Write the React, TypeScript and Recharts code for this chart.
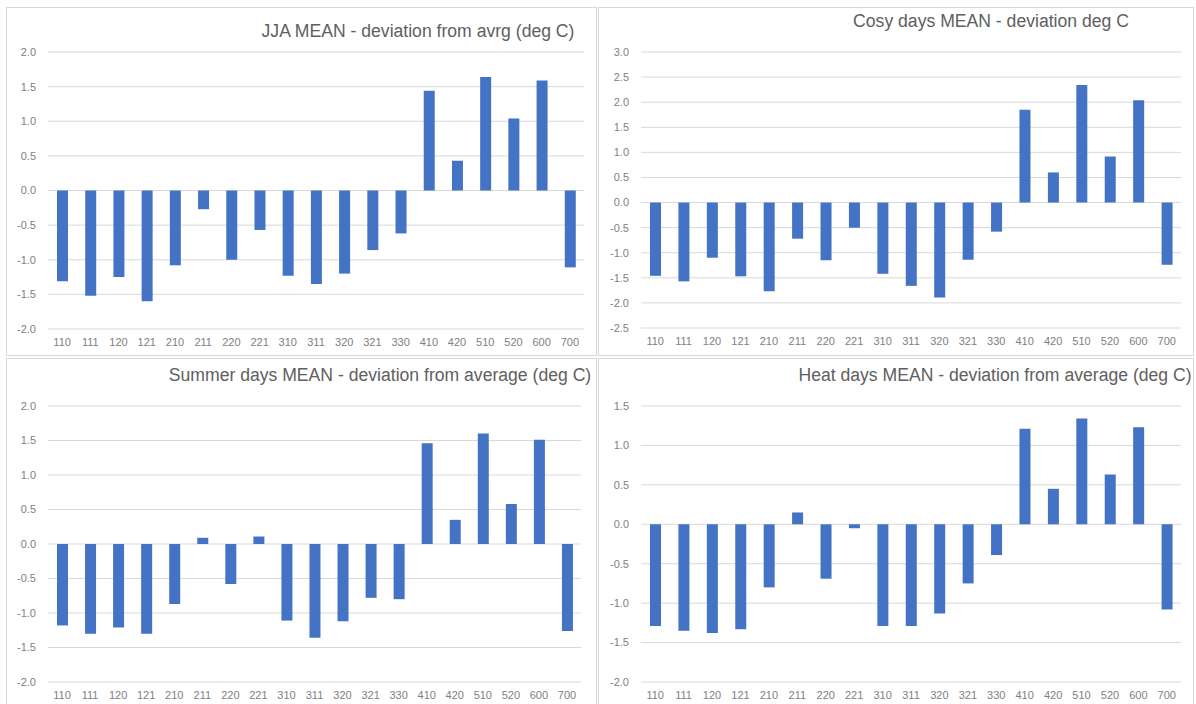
import React from "react";
import { BarChart, Bar, XAxis, YAxis, CartesianGrid } from "recharts";

const categories = ["110", "111", "120", "121", "210", "211", "220", "221", "310", "311", "320", "321", "330", "410", "420", "510", "520", "600", "700"];

const jjaValues = [-1.31, -1.52, -1.25, -1.6, -1.08, -0.27, -1.0, -0.57, -1.23, -1.35, -1.2, -0.86, -0.62, 1.44, 0.43, 1.64, 1.04, 1.59, -1.11];
const cosyValues = [-1.46, -1.57, -1.1, -1.47, -1.77, -0.72, -1.15, -0.5, -1.42, -1.66, -1.89, -1.14, -0.58, 1.85, 0.6, 2.34, 0.92, 2.04, -1.24];
const summerValues = [-1.18, -1.3, -1.21, -1.3, -0.87, 0.09, -0.58, 0.11, -1.11, -1.36, -1.12, -0.78, -0.8, 1.46, 0.35, 1.6, 0.58, 1.51, -1.26];
const heatValues = [-1.29, -1.35, -1.38, -1.33, -0.8, 0.15, -0.69, -0.05, -1.29, -1.29, -1.13, -0.75, -0.39, 1.21, 0.45, 1.34, 0.63, 1.23, -1.08];

const jjaTicks = [-2, -1.5, -1, -0.5, 0, 0.5, 1, 1.5, 2];
const cosyTicks = [-2.5, -2, -1.5, -1, -0.5, 0, 0.5, 1, 1.5, 2, 2.5, 3];
const summerTicks = [-2, -1.5, -1, -0.5, 0, 0.5, 1, 1.5, 2];
const heatTicks = [-2, -1.5, -1, -0.5, 0, 0.5, 1, 1.5];

const titles = [
  "JJA MEAN - deviation from avrg (deg C)",
  "Cosy days MEAN - deviation deg C",
  "Summer days MEAN - deviation from average (deg C)",
  "Heat days MEAN - deviation from average (deg C)",
];

const BAR = "#4472C4";
const GRID = "#d9d9d9";
const TEXT = "#808080";
const FONT = "'Liberation Sans', Arial, sans-serif";

type PanelProps = {
  left: number;
  top: number;
  width: number;
  height: number;
  title: string;
  titleCenter: number;
  titleY: number;
  values: number[];
  ticks: number[];
  plotTop: number;
  plotBottom: number;
  plotLeft: number;
  plotRight: number;
};

function Panel(p: PanelProps) {
  const data = categories.map((c, i) => ({ cat: c, v: p.values[i] }));
  const xAxisH = 20;
  return (
    <div
      style={{
        position: "absolute",
        left: p.left,
        top: p.top,
        width: p.width,
        height: p.height,
        boxSizing: "border-box",
        border: `1px solid ${GRID}`,
        background: "#fff",
        overflow: "hidden",
      }}
    >
      <div
        style={{
          position: "absolute",
          left: p.titleCenter,
          top: p.titleY,
          transform: "translate(-50%, -50%)",
          whiteSpace: "nowrap",
          fontFamily: FONT,
          fontSize: 17.6,
          color: "#606060",
        }}
      >
        {p.title}
      </div>
      <div style={{ position: "absolute", left: -1, top: -1 }}>
        <BarChart
          width={p.width}
          height={p.height}
          data={data}
          margin={{
            top: p.plotTop,
            right: p.width - p.plotRight,
            left: 0,
            bottom: p.height - p.plotBottom - xAxisH,
          }}
        >
          <CartesianGrid vertical={false} stroke={GRID} />
          <XAxis
            dataKey="cat"
            height={xAxisH}
            axisLine={false}
            tickLine={false}
            tickMargin={3}
            interval={0}
            tick={{ fill: TEXT, fontSize: 11, fontFamily: FONT }}
          />
          <YAxis
            width={p.plotLeft}
            type="number"
            domain={[p.ticks[0], p.ticks[p.ticks.length - 1]]}
            ticks={p.ticks}
            axisLine={false}
            tickLine={false}
            tickMargin={6}
            interval={0}
            tickFormatter={(v: number) => v.toFixed(1)}
            tick={{ fill: TEXT, fontSize: 11, fontFamily: FONT }}
          />
          <Bar dataKey="v" fill={BAR} barSize={11} isAnimationActive={false} />
        </BarChart>
      </div>
    </div>
  );
}

export default function App() {
  return (
    <div
      style={{
        position: "fixed",
        left: 0,
        top: 0,
        width: 1196,
        height: 704,
        background: "#ffffff",
        overflow: "hidden",
      }}
    >
      <Panel
        left={6}
        top={7}
        width={591}
        height={349}
        title={titles[0]}
        titleCenter={411}
        titleY={23}
        values={jjaValues}
        ticks={jjaTicks}
        plotTop={45}
        plotBottom={322}
        plotLeft={42}
        plotRight={578}
      />
      <Panel
        left={598}
        top={7}
        width={596}
        height={349}
        title={titles[1]}
        titleCenter={392}
        titleY={13}
        values={cosyValues}
        ticks={cosyTicks}
        plotTop={45}
        plotBottom={321}
        plotLeft={43}
        plotRight={583}
      />
      <Panel
        left={6}
        top={358}
        width={591}
        height={348}
        title={titles[2]}
        titleCenter={373}
        titleY={16}
        values={summerValues}
        ticks={summerTicks}
        plotTop={48}
        plotBottom={324}
        plotLeft={42}
        plotRight={575}
      />
      <Panel
        left={598}
        top={358}
        width={596}
        height={348}
        title={titles[3]}
        titleCenter={396}
        titleY={16}
        values={heatValues}
        ticks={heatTicks}
        plotTop={48}
        plotBottom={324}
        plotLeft={43}
        plotRight={583}
      />
    </div>
  );
}
